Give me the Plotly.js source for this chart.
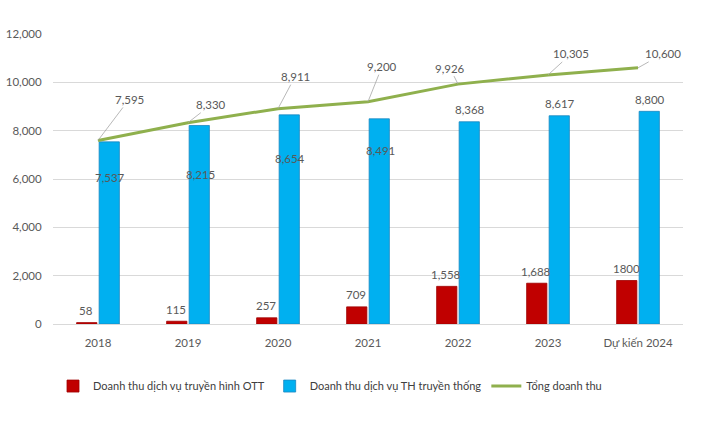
<!DOCTYPE html>
<html>
<head>
<meta charset="utf-8">
<script src="https://cdn.plot.ly/plotly-3.0.1.min.js"></script>
<style>html,body{margin:0;padding:0;background:#fff}#chart{width:720px;height:421px}</style>
</head>
<body>
<div id="chart"></div>
<script>
const categories = ["2018", "2019", "2020", "2021", "2022", "2023", "Dự kiến 2024"];
const ottValues = [58, 115, 257, 709, 1558, 1688, 1800];
const ottLabels = ["58", "115", "257", "709", "1,558", "1,688", "1800"];
const tradValues = [7537, 8215, 8654, 8491, 8368, 8617, 8800];
const totalValues = [7595, 8330, 8911, 9200, 9926, 10305, 10600];

// label placement styles (pixel offsets)
const tradLabelShift = [-36, -49, -44, -32, 12, 12, 12];
const totalLabelAx = [31, 23, 17, 14, -8, 23, 25];
const totalLabelAy = [-41, -18, -32, -35, -16, -21, -14];

const fmt = v => v.toLocaleString('en-US');
const labelFont = {family: 'Lato, "Open Sans", sans-serif', size: 11.5, color: '#595959'};

const traces = [
  {type: 'bar', name: 'Doanh thu dịch vụ truyền hình OTT', x: categories, y: ottValues,
   marker: {color: '#c00000', line: {color: '#9e0000', width: 0.8}}},
  {type: 'bar', name: 'Doanh thu dịch vụ TH truyền thống', x: categories, y: tradValues,
   marker: {color: '#00b0f0', line: {color: '#1a86c0', width: 0.8}}},
  {type: 'scatter', mode: 'lines', name: 'Tổng doanh thu', x: categories, y: totalValues,
   line: {color: '#8fb04d', width: 3}}
];

const annotations = [];
categories.forEach((c, i) => {
  annotations.push({x: i, y: ottValues[i], xref: 'x', yref: 'y', text: ottLabels[i],
    showarrow: false, xshift: -12, yshift: 12, yanchor: 'middle', font: labelFont});
  annotations.push({x: i, y: tradValues[i], xref: 'x', yref: 'y', text: fmt(tradValues[i]),
    showarrow: false, xshift: 12, yshift: tradLabelShift[i], yanchor: 'middle', font: labelFont});
  annotations.push({x: i, y: totalValues[i], xref: 'x', yref: 'y', text: fmt(totalValues[i]),
    showarrow: true, arrowhead: 0, arrowwidth: 0.8, arrowcolor: '#a6a6a6',
    ax: totalLabelAx[i], ay: totalLabelAy[i], standoff: 0, font: labelFont});
});

const layout = {
  width: 720, height: 421,
  margin: {l: 53, r: 37, t: 34, b: 97},
  paper_bgcolor: '#ffffff', plot_bgcolor: '#ffffff',
  font: {family: 'Lato, "Open Sans", sans-serif', size: 11.5, color: '#595959'},
  barmode: 'group', bargap: 0.5, bargroupgap: 0.1,
  showlegend: true,
  legend: {orientation: 'h', x: 0.0, xanchor: 'left', y: -0.214, yanchor: 'middle',
    font: {size: 11, color: '#404040'}, traceorder: 'normal'},
  xaxis: {type: 'category', range: [-0.5, categories.length - 0.5], showgrid: false, showline: false,
    ticks: 'outside', ticklen: 8, tickcolor: '#ffffff', tickfont: {size: 11.5, color: '#595959'}},
  yaxis: {range: [0, 12000], dtick: 2000, tickformat: ',', gridcolor: '#d9d9d9', gridwidth: 1,
    zeroline: true, zerolinecolor: '#d9d9d9', zerolinewidth: 1, showline: false, ticks: 'outside',
    ticklen: 8, tickcolor: '#ffffff', tickfont: {size: 11.5, color: '#595959'}},
  annotations: annotations
};

Plotly.newPlot('chart', traces, layout, {displayModeBar: false, staticPlot: true});
</script>
</body>
</html>
